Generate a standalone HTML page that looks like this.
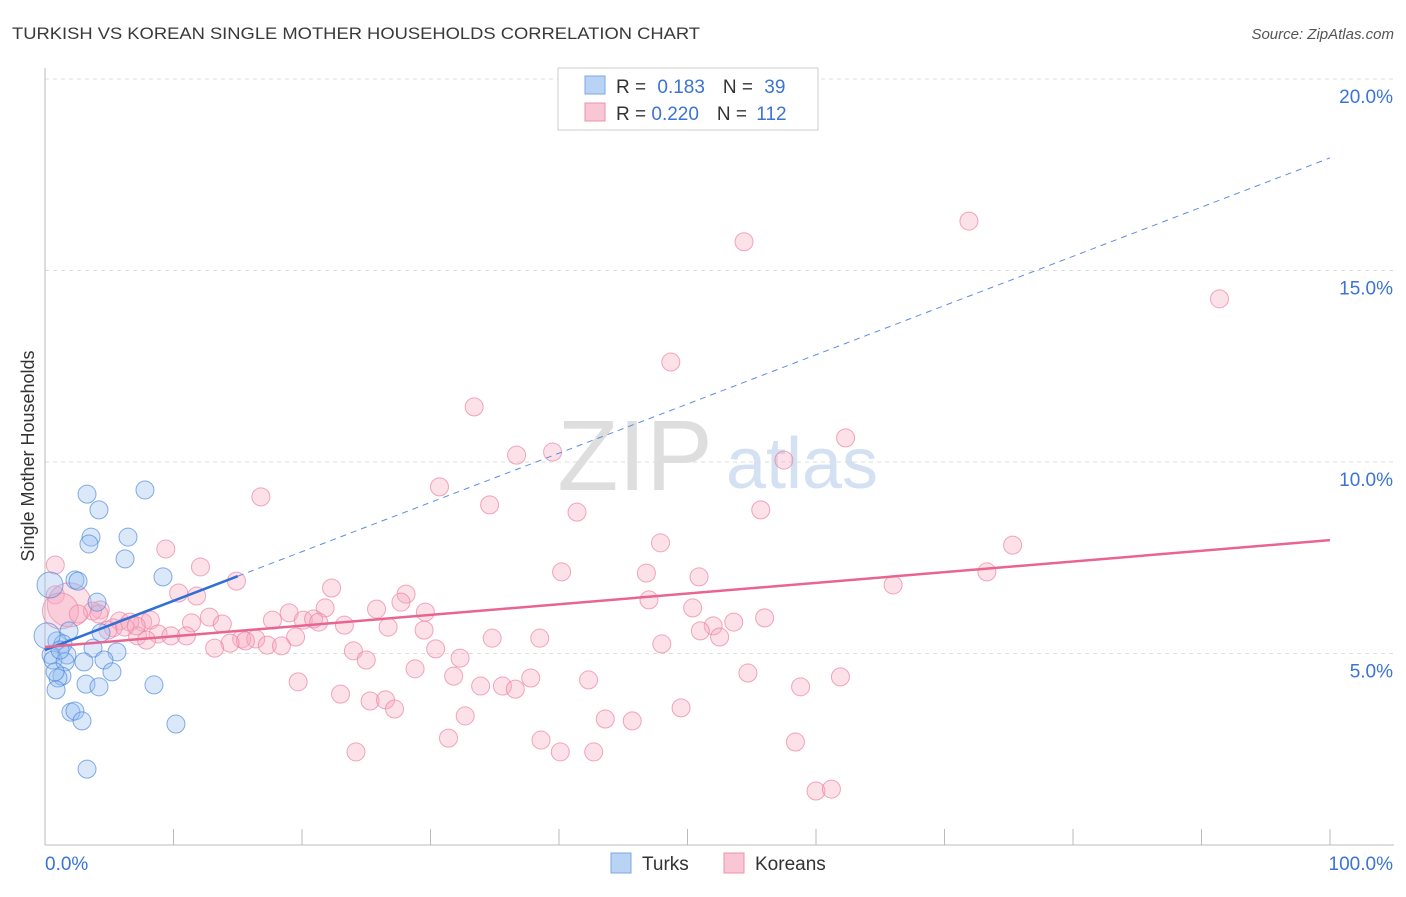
<!DOCTYPE html>
<html><head><meta charset="utf-8"><style>
body{margin:0;background:#fff;font-family:"Liberation Sans",sans-serif;}
svg text{font-family:"Liberation Sans",sans-serif;}
</style></head><body>
<svg id="c" width="1406" height="892">
<text x="12" y="39" font-size="17" fill="#3a3a3a" textLength="688" lengthAdjust="spacingAndGlyphs">TURKISH VS KOREAN SINGLE MOTHER HOUSEHOLDS CORRELATION CHART</text>
<text x="1394" y="39" font-size="15" fill="#555" font-style="italic" text-anchor="end">Source: ZipAtlas.com</text>
<text x="635" y="490" font-size="100" fill="#dedede" font-family="Liberation Serif" text-anchor="middle">ZIP</text>
<text x="802" y="488" font-size="72" fill="#d3e1f3" text-anchor="middle">atlas</text>
<g id="grid"></g><g id="marks"></g>
<text transform="translate(34,456) rotate(-90)" font-size="18" fill="#333" text-anchor="middle">Single Mother Households</text>
<g>
<rect x="558" y="68" width="260" height="62" fill="#fff" stroke="#ccc"/>
<rect x="585" y="76" width="20" height="18" fill="#b9d3f5" stroke="#7aa7e6"/>
<rect x="585" y="103" width="20" height="18" fill="#f9c6d5" stroke="#f090ae"/>
<text x="616" y="93" font-size="19" fill="#333">R = <tspan fill="#3b74d4" dx="6">0.183</tspan><tspan dx="18" fill="#333">N = </tspan><tspan fill="#3b74d4" dx="6">39</tspan></text>
<text x="616" y="120" font-size="19" fill="#333">R = <tspan fill="#3b74d4" dx="0">0.220</tspan><tspan dx="18" fill="#333">N = </tspan><tspan fill="#3b74d4" dx="4">112</tspan></text>
</g>
<g>
<rect x="611" y="853" width="20" height="20" fill="#b9d3f5" stroke="#7aa7e6"/>
<text x="642" y="870" font-size="19" fill="#333">Turks</text>
<rect x="724" y="853" width="20" height="20" fill="#f9c6d5" stroke="#f090ae"/>
<text x="755" y="870" font-size="19" fill="#333">Koreans</text>
</g>
</svg>
<script>
const yTicks=[5,10,15,20];
const xTickLabels=["0.0%","100.0%"];
const turksX=[3.27,7.78,4.2,3.58,3.42,6.46,6.23,9.18,2.33,2.57,4.05,0.39,1.87,4.36,0.93,1.4,3.74,5.6,0.47,1.71,0.62,1.56,3.03,4.59,5.21,1.32,1.01,3.19,4.2,8.48,0.86,2.02,2.33,2.88,10.19,3.27,0.16,0.78,1.17];
const turksY=[9.16,9.27,8.75,8.04,7.86,8.04,7.47,7.0,6.92,6.89,6.34,6.79,5.59,5.54,5.33,5.25,5.14,5.04,4.96,4.96,4.83,4.78,4.78,4.83,4.52,4.41,4.36,4.2,4.13,4.18,4.05,3.47,3.5,3.24,3.16,1.98,5.46,4.52,5.09];
const turksBig=[0,0,0,0,0,0,0,0,0,0,0,1,0,0,0,0,0,0,0,0,0,0,0,0,0,0,0,0,0,0,0,0,0,0,0,0,1,0,0];
const korX=[71.9,54.4,91.4,48.7,33.4,62.3,36.7,39.5,57.5,30.7,16.8,34.6,41.4,55.7,9.4,47.9,75.3,12.1,40.2,46.8,50.9,73.3,14.9,22.3,10.4,28.1,66.0,11.8,47.0,27.7,21.8,25.8,50.4,29.6,19.0,12.8,17.7,20.1,20.9,21.3,23.3,7.6,56.0,53.6,52.0,26.7,4.3,5.8,6.6,8.2,11.4,13.8,29.5,51.0,52.5,19.5,34.8,38.5,8.8,9.8,11.0,7.2,7.9,15.3,16.4,15.6,17.3,18.4,14.4,13.2,48.0,30.4,24.0,32.3,25.0,28.8,54.7,61.9,31.8,37.8,42.3,19.7,33.9,35.6,36.6,58.8,23.0,25.3,26.5,27.2,49.5,32.7,43.6,45.7,31.4,38.6,58.4,24.2,40.1,42.7,60.0,61.2,0.8,0.8,1.9,1.2,3.7,2.6,4.2,5.3,6.2,7.1,4.9];
const korY=[16.29,15.75,14.26,12.61,11.44,10.63,10.18,10.26,10.05,9.35,9.09,8.88,8.69,8.75,7.73,7.89,7.83,7.26,7.13,7.1,7.0,7.13,6.89,6.71,6.58,6.55,6.79,6.5,6.4,6.34,6.19,6.16,6.19,6.08,6.06,5.95,5.87,5.87,5.9,5.82,5.74,5.82,5.93,5.82,5.72,5.69,6.14,5.85,5.82,5.87,5.8,5.77,5.61,5.59,5.43,5.43,5.4,5.4,5.51,5.46,5.46,5.46,5.35,5.38,5.38,5.33,5.22,5.2,5.27,5.14,5.25,5.12,5.07,4.88,4.83,4.6,4.49,4.39,4.41,4.36,4.31,4.26,4.15,4.15,4.07,4.13,3.94,3.76,3.79,3.55,3.58,3.37,3.29,3.24,2.79,2.74,2.69,2.43,2.43,2.43,1.41,1.46,7.31,6.53,6.27,6.11,6.11,6.03,6.03,5.67,5.69,5.72,5.61];
const turksTrend=[5.09,17.94];
const korTrend=[5.17,7.96];
const X=v=>45+v*12.85, Y=v=>845-v*38.3;
const NS='http://www.w3.org/2000/svg';
function mk(t,a,p){const e=document.createElementNS(NS,t);for(const k in a)e.setAttribute(k,a[k]);p.appendChild(e);return e;}
const g=document.getElementById('grid'), m=document.getElementById('marks');
yTicks.forEach(t=>{
 const l=mk('line',{x1:45,x2:1394,y1:Y(t),y2:Y(t),stroke:'#ddd','stroke-dasharray':'4,4'},g);
 
 
 const tx=mk('text',{x:1393,y:Y(t)+24,'font-size':19,fill:'#3b74d4','text-anchor':'end'},g);
 tx.textContent=t.toFixed(1)+'%';
 
 
});
const ax=mk('line',{x1:45,x2:45,y1:68,y2:845,stroke:'#bbb'},g);


const bx=mk('line',{x1:45,x2:1394,y1:845,y2:845,stroke:'#bbb'},g);


for(let i=0;i<=10;i++){const tk=mk('line',{x1:X(i*10),x2:X(i*10),y1:829,y2:845,stroke:'#bbb'},g);
 
 }
const xl0=mk('text',{x:45,y:870,'font-size':19,fill:'#3b74d4'},g);xl0.textContent=xTickLabels[0];


const xl1=mk('text',{x:1393,y:870,'font-size':19,fill:'#3b74d4','text-anchor':'end'},g);xl1.textContent=xTickLabels[1];


korX.forEach((x,i)=>{const big=i>=104&&i<=105;
 const c=mk('circle',{cx:X(x),cy:Y(korY[i]),r:big?(i==104?22:18):9,fill:'rgba(246,170,193,0.35)',stroke:'rgba(236,130,163,0.7)','stroke-width':1},m);
 
 });
turksX.forEach((x,i)=>{
 const c=mk('circle',{cx:X(x),cy:Y(turksY[i]),r:turksBig[i]?13:9,fill:'rgba(150,190,240,0.35)',stroke:'rgba(70,130,215,0.65)','stroke-width':1},m);
 
 });
const ty=x=>turksTrend[0]+(turksTrend[1]-turksTrend[0])*x/100;
const l1=mk('line',{x1:X(0),y1:Y(ty(0)),x2:X(15),y2:Y(ty(15)),stroke:'#2f6fd6','stroke-width':2.5},m);


const l2=mk('line',{x1:X(15),y1:Y(ty(15)),x2:X(100),y2:Y(ty(100)),stroke:'#5d8ee0','stroke-width':1,'stroke-dasharray':'6,5'},m);


const l3=mk('line',{x1:X(0),y1:Y(korTrend[0]),x2:X(100),y2:Y(korTrend[1]),stroke:'#e86592','stroke-width':2.5},m);


</script>
</body></html>
